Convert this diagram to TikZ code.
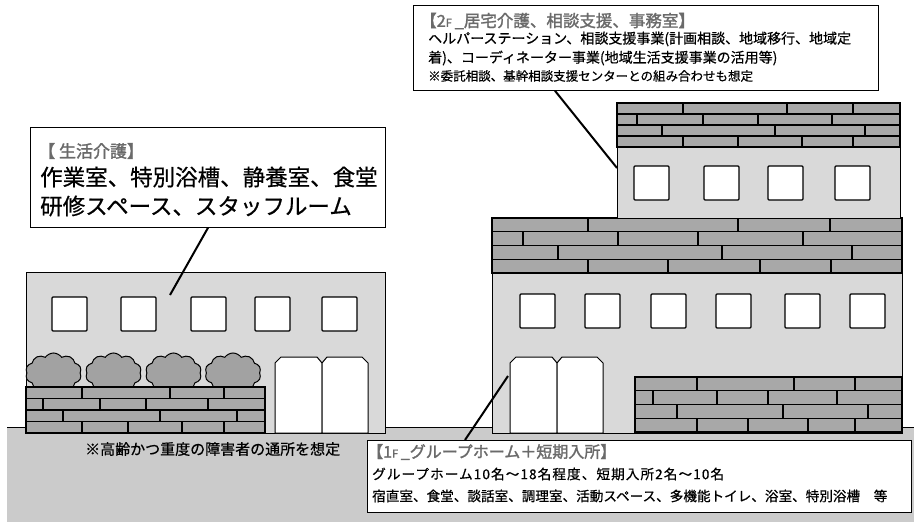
\documentclass[tikz,border=0pt]{standalone}
\usepackage{fontspec}
\setmainfont{Noto Sans CJK JP}
\newfontfamily\jpheavy{Noto Sans CJK JP}[FakeBold=0.6]
\newfontfamily\jpwide{Noto Sans CJK JP}[FakeBold=0.6, LetterSpace=8]
\newfontfamily\jptitle{Noto Sans CJK JP}[FakeBold=1.6]
\usetikzlibrary{shapes.symbols}

\definecolor{wallgray}{HTML}{D9D9D9}
\definecolor{brickgray}{HTML}{A8A8A8}
\definecolor{groundgray}{HTML}{CBCBCB}
\definecolor{bushgray}{HTML}{A2A2A2}
\definecolor{titlegray}{HTML}{6A6A6A}

\tikzset{
  wall/.style={fill=wallgray, draw=black, line width=1pt},
  windowpane/.style={fill=white, draw=black, line width=1.2pt, rounded corners=1pt},
  leaf/.style={fill=white, draw=black, line width=1pt},
  course/.style={draw=black, line width=1.1pt},
  joint/.style={draw=black, line width=2pt},
  bush/.style={cloud, cloud puffs=10, cloud puff arc=110, cloud ignores aspect, fill=bushgray, draw=black, line width=1pt, inner sep=0pt},
  callout/.style={draw=black, line width=0.8pt, fill=white, inner sep=0pt, anchor=north west},
  leader/.style={draw=black, line width=2pt},
  ttl/.style={anchor=west, inner sep=0pt, text=titlegray},
  txt/.style={anchor=west, inner sep=0pt},
}

% brick courses: left x, right x, top y, course height, number of courses, joints as x/course
\newcommand{\brickwall}[6]{%
  \fill[brickgray] (#1,#3) rectangle (#2,{#3+#5*#4});
  \foreach \rw in {1,...,#5}{\draw[course] (#1,{#3+\rw*#4}) -- (#2,{#3+\rw*#4});}
  \foreach \jx/\jr in {#6}{\draw[joint] (\jx,{#3+(\jr-1)*#4}) -- (\jx,{#3+\jr*#4});}
  \draw[line width=1.2pt] (#1,#3) rectangle (#2,{#3+#5*#4});
}
% square window with its top-left corner given
\newcommand{\pane}[2]{\draw[windowpane] (#1,#2) rectangle ++(35,34);}
% double door: left x, middle x, right x
\newcommand{\doubledoor}[3]{%
  \draw[leaf] (#1,433) -- (#1,363) -- ({#1+6},357) -- ({#2-5},357) -- (#2,363) -- (#2,433) -- cycle;
  \draw[leaf] (#2,433) -- (#2,363) -- ({#2+5},357) -- ({#3-6},357) -- (#3,363) -- (#3,433) -- cycle;
}

\begin{document}
\begin{tikzpicture}[x=1pt,y=-1pt]
\useasboundingbox (0,0) rectangle (914,522);

% ground
\fill[groundgray] (7,427) rectangle (914,522);
\draw[line width=1pt] (7,427) -- (914,427);

% ---------- day-care building (left) ----------
\draw[wall] (26,272) rectangle (385,433);
\foreach \wx in {52,121,191,255,322} {\pane{\wx}{297}}
\doubledoor{275}{322}{368}
\node[bush, minimum width=56pt, minimum height=40pt] (bushA) at (53.5,373) {};
\node[bush, minimum width=56pt, minimum height=40pt] (bushB) at (113.5,373) {};
\node[bush, minimum width=56pt, minimum height=40pt] (bushC) at (173.5,373) {};
\node[bush, minimum width=56pt, minimum height=40pt] (bushD) at (233,373) {};
\brickwall{26}{265}{387}{11.5}{4}{82/1,170/1,224/1,43/2,100/2,146/2,208/2,63/3,160/3,237/3,82/4,128/4,182/4,224/4}

% ---------- group home building (right) ----------
\draw[wall] (492,273) rectangle (902,433);
\brickwall{492}{902}{218}{13.75}{4}{588/1,738/1,830/1,523/2,618/2,698/2,803/2,558/3,722/3,852/3,588/4,668/4,760/4,831/4}
\foreach \wx in {520,585,651,716,785,850} {\pane{\wx}{294}}
\doubledoor{510}{557}{603}
\brickwall{635}{902}{377}{13.75}{4}{697/1,794/1,855/1,653/2,717/2,768/2,837/2,677/3,783/3,868/3,697/4,748/4,808/4,855/4}

% second floor
\draw[wall] (617,147) rectangle (900,218);
\brickwall{617}{900}{103}{11}{4}{683/1,787/1,853/1,637/2,703/2,758/2,832/2,662/3,775/3,865/3,683/4,738/4,802/4,853/4}
\foreach \wx in {634,704,768,835} {\pane{\wx}{166}}

% ---------- callouts ----------
\coordinate (careTip) at (170,295);
\coordinate (officeTip) at (617,168);
\coordinate (homeTip) at (508,376);

\node[callout, minimum width=355pt, minimum height=100pt] (careBox) at (30,127) {};
\draw[leader] ([xshift=178pt]careBox.south west) -- (careTip);
\node[ttl, font=\jptitle\fontsize{17}{17}\selectfont] (careTitle) at (38,151) {【 生活介護】};
\node[txt, font=\jpheavy\fontsize{22.5}{22.5}\selectfont] (careRooms) at (40,177) {作業室、特別浴槽、静養室、食堂};
\node[txt, font=\jpheavy\fontsize{22.5}{22.5}\selectfont] (careStaff) at (40,206) {研修スペース、スタッフルーム};

\node[callout, minimum width=465pt, minimum height=85pt] (officeBox) at (413,5) {};
\draw[leader] ([xshift=142pt]officeBox.south west) -- (officeTip);
\node[ttl, font=\jptitle\fontsize{16.5}{16.5}\selectfont] (officeTitle) at (420,21) {【2{\fontsize{11}{11}\selectfont F}\,\_居宅介護、相談支援、事務室】};
\node[txt, font=\jpheavy\fontsize{14}{14}\selectfont] (officeL1) at (428,39) {ヘルパーステーション、相談支援事業(計画相談、地域移行、地域定};
\node[txt, font=\jpheavy\fontsize{14}{14}\selectfont] (officeL2) at (428,58) {着)、コーディネーター事業(地域生活支援事業の活用等)};
\node[txt, font=\jpheavy\fontsize{12.5}{12.5}\selectfont] (officeL3) at (428,76) {※委託相談、基幹相談支援センターとの組み合わせも想定};

\draw[leader] (homeTip) -- (465,440);
\node[callout, minimum width=544pt, minimum height=72pt] (homeBox) at (367,440) {};
\node[ttl, font=\jptitle\fontsize{16}{16}\selectfont] (homeTitle) at (367,452) {【1{\fontsize{11}{11}\selectfont F}\,\_グループホーム＋短期入所】};
\node[txt, font=\jpwide\fontsize{13.6}{13.6}\selectfont] (homeL1) at (372,474) {グループホーム10名～18名程度、短期入所2名～10名};
\node[txt, font=\jpheavy\fontsize{13.6}{13.6}\selectfont] (homeL2) at (372,496) {宿直室、食堂、談話室、調理室、活動スペース、多機能トイレ、浴室、特別浴槽　等};

\node[txt, font=\jpheavy\fontsize{15}{15}\selectfont] (note) at (85,449) {※高齢かつ重度の障害者の通所を想定};
\end{tikzpicture}
\end{document}
